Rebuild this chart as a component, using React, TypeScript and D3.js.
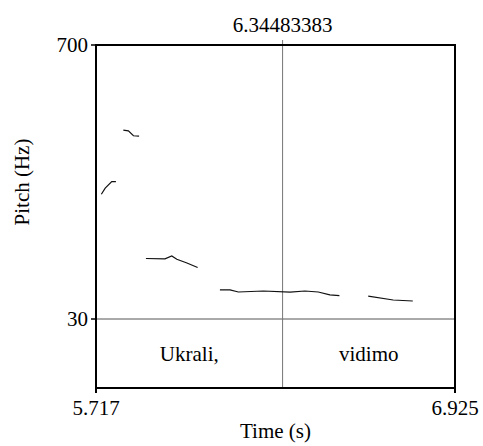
import React from "react";
import * as d3 from "d3";

const seg1T = [5.735, 5.748, 5.770, 5.784];
const seg1F = [335, 350, 366, 366];
const seg2T = [5.809, 5.826, 5.843, 5.862];
const seg2F = [492, 490, 478, 477];
const seg3T = [5.885, 5.949, 5.972, 5.989, 6.023, 6.059];
const seg3F = [178, 177, 184, 176, 167, 156];
const seg4T = [6.134, 6.168, 6.196, 6.280, 6.370, 6.420, 6.465, 6.504, 6.536];
const seg4F = [101, 101, 96, 98.5, 95.5, 98.5, 96, 89, 87];
const seg5T = [6.633, 6.717, 6.783];
const seg5F = [86, 76.5, 74];

const segments = [
  [seg1T, seg1F],
  [seg2T, seg2F],
  [seg3T, seg3F],
  [seg4T, seg4F],
  [seg5T, seg5F],
];

const tMin = 5.717;
const tMax = 6.925;
const fMin = 30;
const fMax = 700;
const cursorTime = 6.34483383;
const cursorLabel = "6.34483383";
const xTickLabels = ["5.717", "6.925"];
const yTickLabels = ["700", "30"];
const words = [
  { label: "Ukrali,", start: 5.717, end: 6.34483383 },
  { label: "vidimo", start: 6.34483383, end: 6.925 },
];

export default function App() {
  const W = 483;
  const H = 446;
  const left = 96, right = 455, top = 45, pitchBottom = 319, bottom = 388;
  const x = d3.scaleLinear().domain([tMin, tMax]).range([left, right]);
  const y = d3.scaleLinear().domain([fMin, fMax]).range([pitchBottom, top]);
  const line = d3
    .line<[number, number]>()
    .x((d) => x(d[0]))
    .y((d) => y(d[1]));
  const font = "'Liberation Serif', 'Times New Roman', serif";
  const fs = 21;
  const cx = x(cursorTime);
  return (
    <svg
      width={W}
      height={H}
      style={{ position: "absolute", left: 0, top: 0, background: "#fff" }}
      fontFamily={font}
      fontSize={fs}
    >
      <rect x={0} y={0} width={W} height={H} fill="#fff" />
      {/* 30 Hz line */}
      <line x1={left} x2={right} y1={y(fMin)} y2={y(fMin)} stroke="#555" strokeWidth={1} />
      {/* cursor */}
      <line x1={cx} x2={cx} y1={top - 5} y2={bottom} stroke="#777" strokeWidth={1} />
      {/* pitch */}
      {segments.map(([ts, fs2], i) => (
        <path
          key={i}
          d={line(ts.map((t, j) => [t, fs2[j]] as [number, number])) || ""}
          fill="none"
          stroke="#111"
          strokeWidth={1.2}
        />
      ))}
      {/* frame */}
      <rect x={left} y={top} width={right - left} height={bottom - top} fill="none" stroke="#000" strokeWidth={2} />
      {/* y ticks */}
      {[fMax, fMin].map((v, i) => (
        <g key={i}>
          <line x1={left - 5} x2={left} y1={y(v)} y2={y(v)} stroke="#000" strokeWidth={1.5} />
          <text x={left - 8} y={y(v) + 7} textAnchor="end">
            {yTickLabels[i]}
          </text>
        </g>
      ))}
      {/* x ticks */}
      {[tMin, tMax].map((v, i) => (
        <g key={i}>
          <line x1={x(v)} x2={x(v)} y1={bottom} y2={bottom + 5} stroke="#000" strokeWidth={2} />
          <text x={x(v)} y={415} textAnchor="middle">
            {xTickLabels[i]}
          </text>
        </g>
      ))}
      <text x={cx} y={32} textAnchor="middle">
        {cursorLabel}
      </text>
      {words.map((w, i) => (
        <text key={i} x={(x(w.start) + x(w.end)) / 2} y={361} textAnchor="middle">
          {w.label}
        </text>
      ))}
      <text x={(left + right) / 2} y={438} textAnchor="middle">
        Time (s)
      </text>
      <text
        transform={`translate(29, ${(top + pitchBottom) / 2}) rotate(-90)`}
        textAnchor="middle"
      >
        Pitch (Hz)
      </text>
    </svg>
  );
}
